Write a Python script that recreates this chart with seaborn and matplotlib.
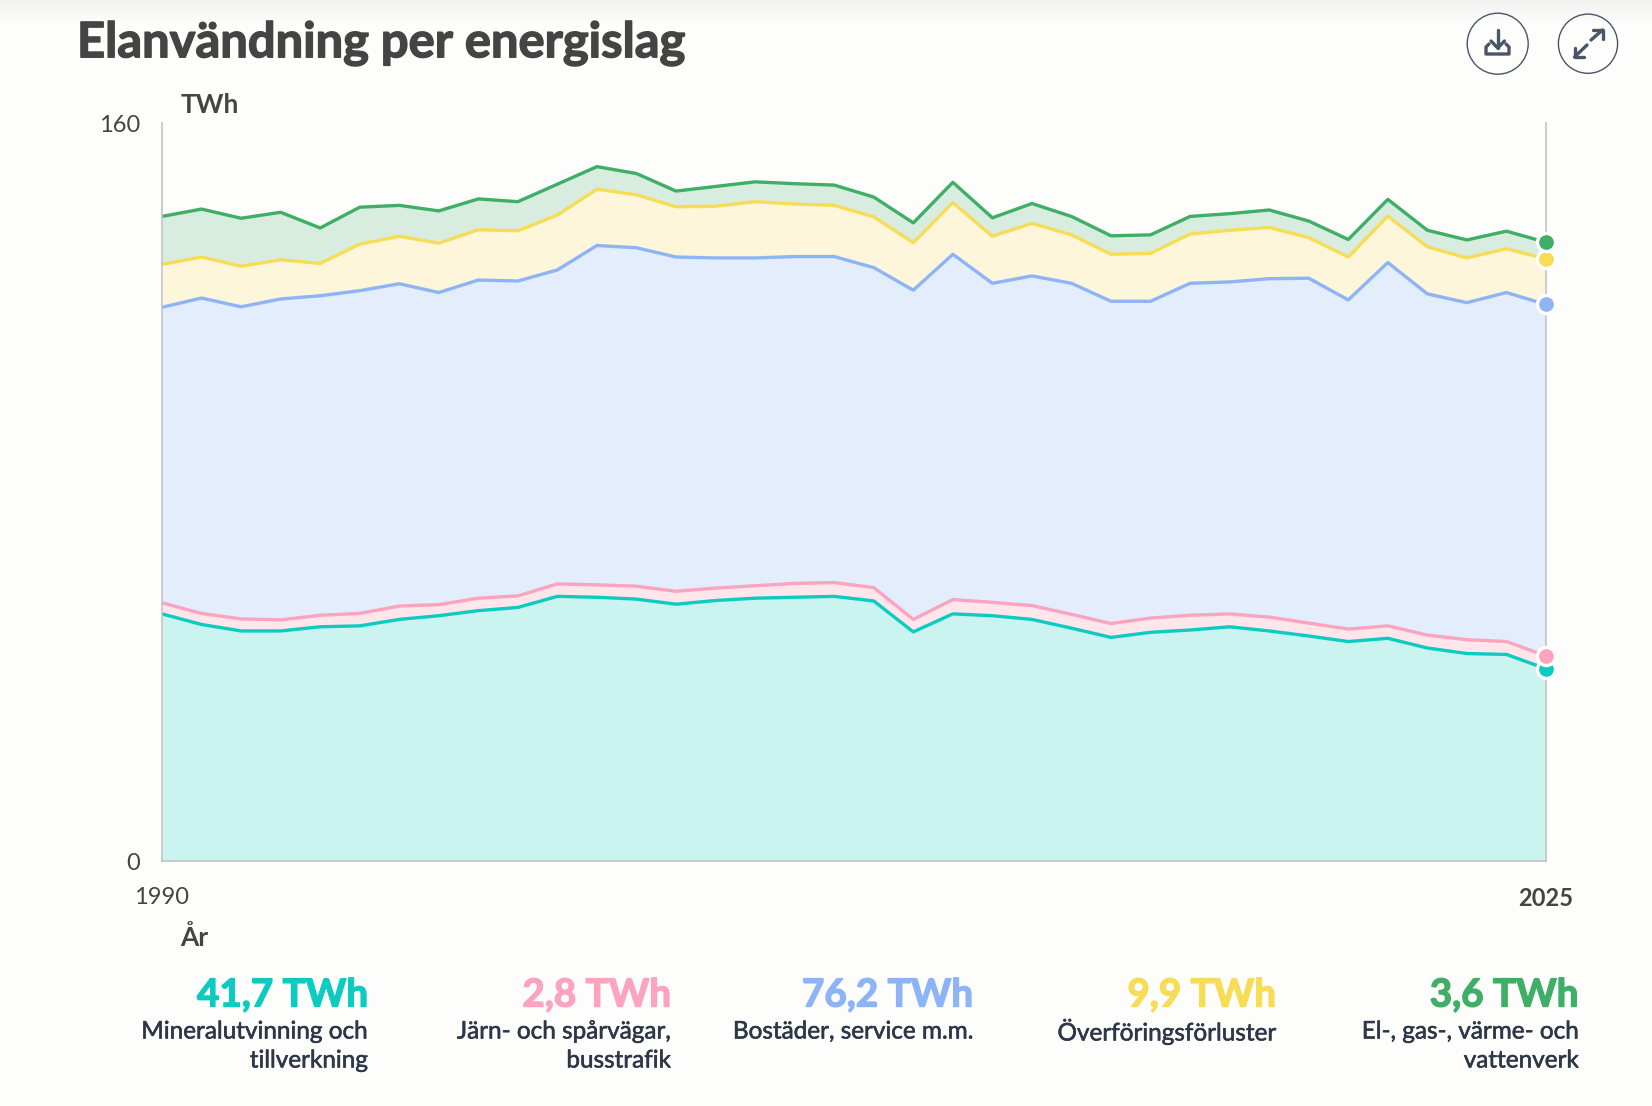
import numpy as np
import pandas as pd
import matplotlib
matplotlib.use('Agg')
import matplotlib.pyplot as plt
import matplotlib.patheffects as pe
from matplotlib.patches import Circle
import seaborn as sns

# Data (TWh per sector, 1990-2025)
years = list(range(1990, 2026))
mineral = [53.6, 51.3, 49.9, 49.9, 50.8, 51.0, 52.4, 53.2, 54.3, 55.0, 57.4, 57.2,
           56.8, 55.7, 56.5, 57.0, 57.2, 57.4, 56.4, 49.7, 53.6, 53.2, 52.4, 50.5,
           48.5, 49.6, 50.1, 50.8, 49.9, 48.8, 47.6, 48.3, 46.2, 45.0, 44.8, 41.7]
rail = [2.4, 2.4, 2.6, 2.4, 2.5, 2.7, 2.9, 2.4, 2.7, 2.5, 2.7, 2.7,
        2.8, 2.8, 2.7, 2.7, 3.0, 3.0, 2.9, 2.7, 3.1, 2.9, 3.0, 3.0,
        3.0, 3.1, 3.2, 2.8, 3.0, 2.8, 2.7, 2.7, 2.8, 3.0, 2.8, 2.8]
housing = [64.1, 68.4, 67.7, 69.6, 69.3, 70.0, 69.9, 67.7, 69.0, 68.3, 68.1, 73.6,
           73.4, 72.5, 71.6, 71.1, 70.9, 70.7, 69.4, 71.4, 74.9, 69.2, 71.5, 71.8,
           69.9, 68.7, 72.0, 72.0, 73.4, 74.8, 71.4, 78.8, 74.0, 73.1, 75.7, 76.2]
losses = [9.3, 8.9, 8.8, 8.5, 7.0, 10.1, 10.3, 10.7, 10.9, 10.9, 11.9, 12.2,
          11.5, 10.9, 11.2, 12.2, 11.4, 11.1, 11.0, 10.3, 11.2, 10.2, 11.4, 10.5,
          10.2, 10.4, 10.7, 11.2, 11.1, 8.8, 9.3, 10.1, 10.2, 9.7, 9.5, 9.9]
utilities = [10.4, 10.4, 10.4, 10.3, 7.7, 8.0, 6.7, 7.0, 6.7, 6.3, 6.7, 4.9,
             4.6, 3.4, 4.3, 4.3, 4.4, 4.4, 4.3, 4.3, 4.4, 4.0, 4.3, 4.0,
             4.0, 4.0, 3.8, 3.6, 3.8, 3.6, 3.8, 3.6, 3.6, 3.9, 3.8, 3.6]

names = ['Mineralutvinning och\ntillverkning', 'Järn- och spårvägar,\nbusstrafik',
         'Bostäder, service m.m.', 'Överföringsförluster', 'El-, gas-, värme- och\nvattenverk']
totals = ['41,7 TWh', '2,8 TWh', '76,2 TWh', '9,9 TWh', '3,6 TWh']
line_colors = ['#0CCBC1', '#FBA3BF', '#8DB4F7', '#F7DC55', '#3FAE66']
fill_colors = ['#CBF3EF', '#FFE6EB', '#E3EDFB', '#FDF6DA', '#D8EDDF']

BG = '#FDFDFB'
DARK = '#444444'
NAVY = '#2D3748'
ICON = '#4A5568'
W, H = 1652, 1106


def thicken(color, width):
    # Lato has no heavier cut installed, so fatten the bold a little
    return [pe.withStroke(linewidth=width, foreground=color)]


sns.set_theme(style='white')
plt.rcParams['font.family'] = ['Lato', 'DejaVu Sans']

# Stack the series
df = pd.DataFrame(dict(zip(names, [mineral, rail, housing, losses, utilities])), index=years)
stacked = df.cumsum(axis=1)
long_df = stacked.reset_index(names='year').melt('year', var_name='sector', value_name='level')

fig = plt.figure(figsize=(W / 100, H / 100), dpi=100, facecolor=BG)
ax = fig.add_axes([162 / W, 1 - 861 / H, (1546 - 162) / W, (861 - 123.3) / H], facecolor=BG)

# Overlay in pixel coordinates for the page furniture
page = fig.add_axes([0, 0, 1, 1], zorder=-1)
shade = np.linspace(0, 1, 24).reshape(-1, 1)
page.imshow(shade, extent=[0, W, 24, 0], aspect='auto',
            cmap=matplotlib.colors.LinearSegmentedColormap.from_list('top', ['#F2F2F1', BG]))
page.set_xlim(0, W)
page.set_ylim(H, 0)
page.axis('off')

# Areas
lower = np.zeros(len(years))
for name, color in zip(names, fill_colors):
    ax.fill_between(years, lower, stacked[name].values, color=color, linewidth=0, zorder=1)
    lower = stacked[name].values

# Lines
sns.lineplot(data=long_df, x='year', y='level', hue='sector', hue_order=names,
             palette=line_colors, linewidth=2.4, legend=False, ax=ax, zorder=2)

# End dots
for name, color in zip(names, line_colors):
    ax.plot(years[-1], stacked[name].values[-1], 'o', ms=13, mfc=color, mec='white', mew=2.4,
            clip_on=False, zorder=5)

ax.set_xlim(1990, 2025)
ax.set_ylim(0, 160)
ax.set_xlabel('')
ax.set_ylabel('')
ax.set_xticks([1990, 2025])
ax.set_xticklabels(['1990', '2025'], fontsize=17, color=DARK)
ax.get_xticklabels()[1].set_fontweight('bold')
ax.set_yticks([0, 160])
ax.set_yticklabels(['0', '160'], fontsize=17, color=DARK)
ax.tick_params(axis='both', length=0)
ax.tick_params(axis='x', pad=18.5)
ax.tick_params(axis='y', pad=15.5)
sns.despine(ax=ax, top=True, right=False)
for side in ['left', 'right', 'bottom']:
    ax.spines[side].set_color('#C4C4C4')
    ax.spines[side].set_linewidth(1.2)

# Title and axis names
page.text(77, 43, 'Elanvändning per energislag', fontsize=35.2, fontweight='bold', color=DARK,
          ha='left', va='center', path_effects=thicken(DARK, 1.0))
page.text(180.5, 105, 'TWh', fontsize=19, fontweight='bold', color=DARK, ha='left', va='center')
page.text(180.5, 938, 'År', fontsize=19, fontweight='bold', color=DARK, ha='left', va='center')

# Bottom legend
right_edges = [368, 671, 973, 1276, 1578.5]
for x, total, name, color in zip(right_edges, totals, names, line_colors):
    page.text(x, 995, total, fontsize=27.8, fontweight='bold', color=color, ha='right', va='center',
              path_effects=thicken(color, 1.0))
    for k, part in enumerate(name.split('\n')):
        page.text(x, 1032 + k * 29, part, fontsize=17.5, color=NAVY, ha='right', va='center',
                  path_effects=thicken(NAVY, 0.4))

# Buttons
page.add_patch(Circle((1497.7, 43.7), 30.5, fc='none', ec=ICON, lw=1))
page.add_patch(Circle((1588, 43.7), 29.6, fc='none', ec=ICON, lw=1))
ikw = dict(color=ICON, lw=2.4, solid_capstyle='round', solid_joinstyle='round')
page.plot([1497.7, 1497.7], [30, 48], **ikw)
page.plot([1491, 1497.7, 1504.4], [41, 48, 41], **ikw)
page.plot([1489, 1486, 1486, 1509, 1509, 1506], [44, 47, 54, 54, 47, 44], **ikw)
page.plot([1574.5, 1587], [57, 45], **ikw)
page.plot([1574.5, 1574.5, 1584], [48, 57, 57], **ikw)
page.plot([1591, 1602.5], [40, 30], **ikw)
page.plot([1593, 1602.5, 1602.5], [30, 30, 39], **ikw)

fig.savefig('out.png', dpi=100, facecolor=BG)
